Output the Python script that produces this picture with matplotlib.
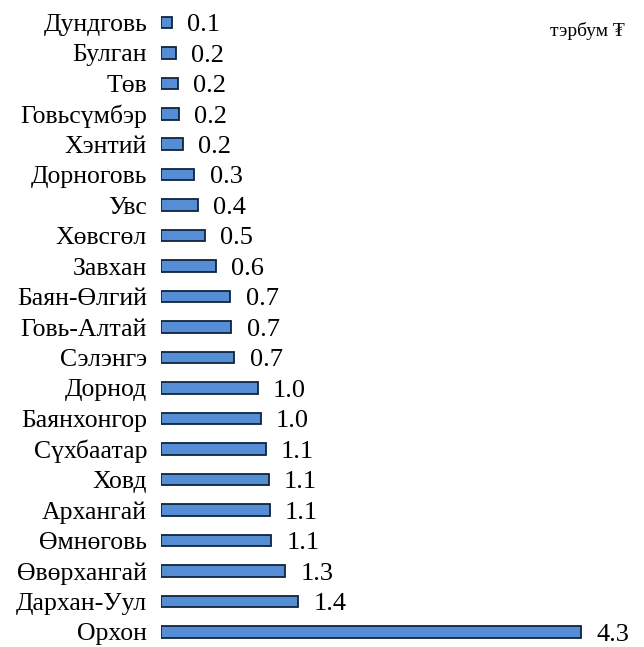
import matplotlib.pyplot as plt

# aimags, top to bottom as in the picture
regions = ['Дундговь', 'Булган', 'Төв', 'Говьсүмбэр', 'Хэнтий', 'Дорноговь', 'Увс',
           'Хөвсгөл', 'Завхан', 'Баян-Өлгий', 'Говь-Алтай', 'Сэлэнгэ', 'Дорнод',
           'Баянхонгор', 'Сүхбаатар', 'Ховд', 'Архангай', 'Өмнөговь', 'Өвөрхангай',
           'Дархан-Уул', 'Орхон']
values = [0.11, 0.15, 0.17, 0.18, 0.22, 0.34, 0.38, 0.45, 0.56, 0.71, 0.72, 0.75,
          0.99, 1.02, 1.07, 1.10, 1.11, 1.13, 1.27, 1.40, 4.30]
value_labels = ['0.1', '0.2', '0.2', '0.2', '0.2', '0.3', '0.4', '0.5', '0.6', '0.7',
                '0.7', '0.7', '1.0', '1.0', '1.1', '1.1', '1.1', '1.1', '1.3', '1.4', '4.3']

serif = ['Liberation Serif', 'DejaVu Serif']
plt.rcParams['font.family'] = serif

fig = plt.figure(figsize=(6.44, 6.47), dpi=100)
ax = fig.add_axes([0.25, 0.0, 0.744, 0.989])

ypos = list(range(len(regions)))[::-1]
bars = ax.barh(ypos, values, height=0.38, color='#558ED5', edgecolor='#10243F', linewidth=1.3)
# value labels, nudged down a little so the digits sit on the bar's middle
for y, v, lab in zip(ypos, values, value_labels):
    ax.annotate(lab, (v, y), xytext=(11, -2), textcoords='offset points',
                ha='left', va='center', fontsize=19)

ax.set_yticks(ypos)
ax.set_yticklabels(regions, fontsize=18.5)
ax.tick_params(axis='y', length=0, pad=10)
ax.set_xticks([])
ax.set_xlim(0, 4.9)
ax.set_ylim(-0.5, len(regions) - 0.5)
for s in ax.spines.values():
    s.set_visible(False)

fig.text(0.97, 0.952, 'тэрбум ₮', ha='right', va='center', fontsize=14, family=serif)

fig.savefig('out.png', dpi=100)
